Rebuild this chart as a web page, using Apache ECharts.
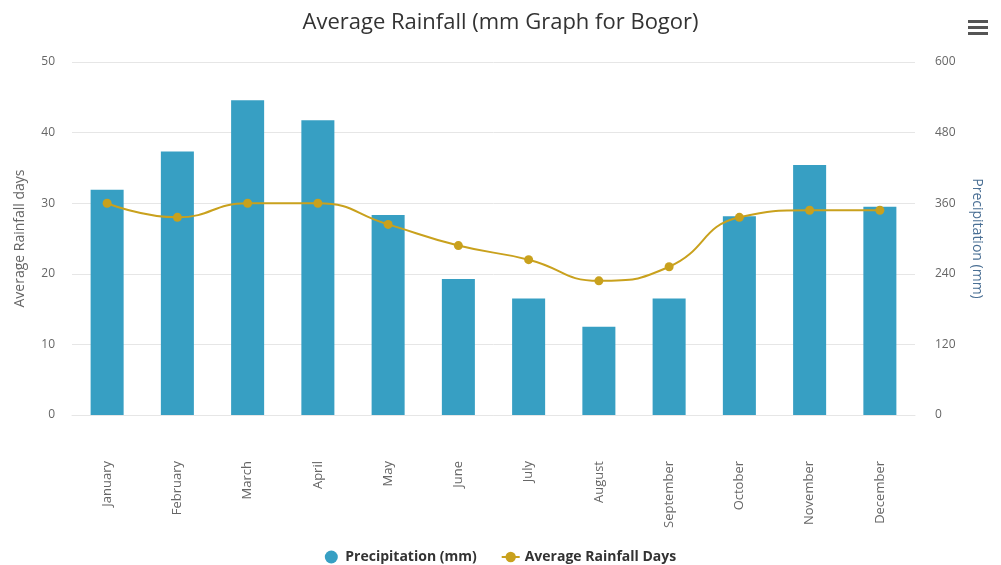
<!DOCTYPE html>
<html>
<head>
<meta charset="utf-8">
<script src="https://cdn.jsdelivr.net/npm/echarts@6/dist/echarts.min.js"></script>
<style>
  html, body { margin: 0; padding: 0; background: #fff; }
  #chart { width: 1001px; height: 565px; }
</style>
</head>
<body>
<div id="chart"></div>
<script>
// Monthly climate figures for Bogor
const months = ['January', 'February', 'March', 'April', 'May', 'June',
  'July', 'August', 'September', 'October', 'November', 'December'];
const precipitationMm = [383, 448, 535, 501, 340, 231, 198, 150, 198, 338, 425, 354];
const rainfallDays = [30, 28, 30, 30, 27, 24, 22, 19, 21, 28, 29, 29];

const chart = echarts.init(document.getElementById('chart'));

const labelFont = 'Open Sans, DejaVu Sans, sans-serif';

chart.setOption({
  backgroundColor: '#ffffff',
  animation: false,
  title: {
    text: 'Average Rainfall (mm Graph for Bogor)',
    left: 'center',
    top: 7,
    textStyle: { fontFamily: labelFont, fontSize: 22, fontWeight: 'normal', color: '#333333' }
  },
  legend: {
    top: 545,
    left: 'center',
    itemGap: 24,
    itemWidth: 18,
    itemHeight: 13,
    textStyle: { fontFamily: labelFont, fontSize: 14, fontWeight: 'bold', color: '#333333' },
    data: [
      { name: 'Precipitation (mm)', icon: 'circle' },
      { name: 'Average Rainfall Days' }
    ]
  },
  grid: { left: 72, right: 86, top: 62, bottom: 150, containLabel: false },
  xAxis: {
    type: 'category',
    data: months,
    axisTick: { show: false },
    axisLine: { show: true, lineStyle: { color: '#e6e6e6' } },
    axisLabel: {
      rotate: 90,
      margin: 46,
      color: '#666666',
      fontFamily: labelFont,
      fontSize: 13
    }
  },
  yAxis: [
    {
      type: 'value',
      name: 'Average Rainfall days',
      nameLocation: 'middle',
      nameGap: 45,
      nameTextStyle: { color: '#666666', fontFamily: labelFont, fontSize: 14 },
      min: 0, max: 50, interval: 10,
      axisLine: { show: false },
      axisTick: { show: false },
      axisLabel: { color: '#666666', fontFamily: labelFont, fontSize: 12, margin: 17 },
      splitLine: { lineStyle: { color: '#e6e6e6' } }
    },
    {
      type: 'value',
      name: 'Precipitation (mm)',
      nameLocation: 'middle',
      nameGap: 55,
      nameRotate: -90,
      nameTextStyle: { color: '#4a6f94', fontFamily: labelFont, fontSize: 14 },
      min: 0, max: 600, interval: 120,
      axisLine: { show: false },
      axisTick: { show: false },
      axisLabel: { color: '#666666', fontFamily: labelFont, fontSize: 12, margin: 20 },
      splitLine: { show: false }
    }
  ],
  series: [
    {
      name: 'Precipitation (mm)',
      type: 'bar',
      yAxisIndex: 1,
      data: precipitationMm,
      barWidth: '47%',
      itemStyle: { color: '#379fc3' }
    },
    {
      name: 'Average Rainfall Days',
      type: 'line',
      yAxisIndex: 0,
      data: rainfallDays,
      smooth: true,
      symbol: 'circle',
      symbolSize: 9,
      lineStyle: { color: '#c9a11d', width: 2 },
      itemStyle: { color: '#c9a11d' }
    }
  ],
  graphic: [
    { type: 'rect', left: 968, top: 20, shape: { width: 20, height: 3 }, style: { fill: '#555555' } },
    { type: 'rect', left: 968, top: 26, shape: { width: 20, height: 3 }, style: { fill: '#555555' } },
    { type: 'rect', left: 968, top: 32, shape: { width: 20, height: 3 }, style: { fill: '#555555' } }
  ]
});
</script>
</body>
</html>
